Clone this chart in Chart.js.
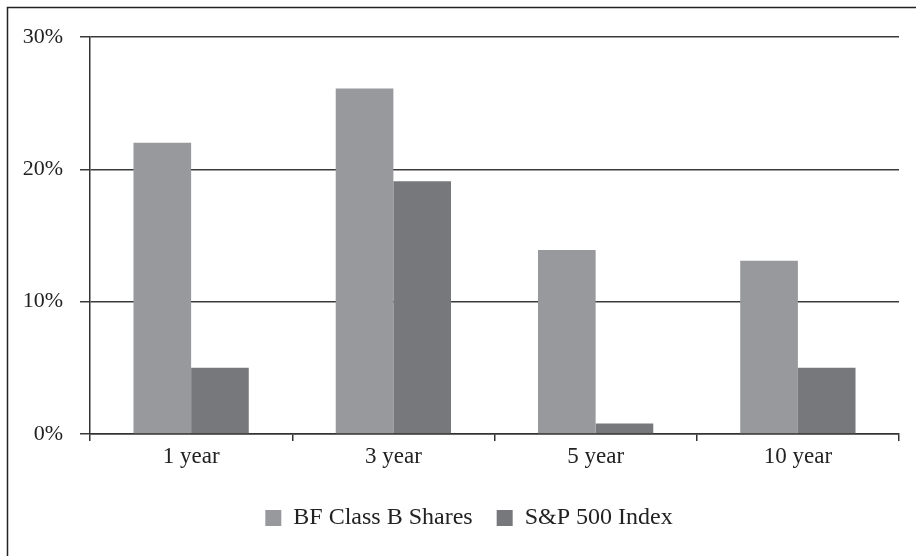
<!DOCTYPE html>
<html>
<head>
<meta charset="utf-8">
<script src="https://cdn.jsdelivr.net/npm/chart.js@4/dist/chart.umd.min.js"></script>
<style>
  html, body { margin: 0; padding: 0; background: #fff; }
  #wrap { width: 916px; height: 556px; }
</style>
</head>
<body>
<div id="wrap"><canvas id="myChart" width="916" height="556"></canvas></div>
<script>
const periods = ['1 year', '3 year', '5 year', '10 year'];
const bfShares = [22, 26.1, 13.9, 13.1];
const spIndex = [5, 19.1, 0.8, 5];
const yTicks = [0, 10, 20, 30];

const serif = '"Liberation Serif", "Times New Roman", serif';

// only the top and left edges of the frame show in the picture
const framePlugin = {
  id: 'frame',
  afterLayout(chart) {
    // the legend sits a little right of the canvas centre
    chart.legend.left += 19.5;
    chart.legend.right += 19.5;
  },
  afterDraw(chart) {
    const ctx = chart.ctx;
    ctx.save();
    ctx.strokeStyle = '#222';
    ctx.lineWidth = 1.5;
    ctx.beginPath();
    ctx.moveTo(7.5, 556);
    ctx.lineTo(7.5, 7.5);
    ctx.lineTo(916, 7.5);
    ctx.stroke();
    ctx.restore();
  }
};

const ctx = document.getElementById('myChart');
new Chart(ctx, {
  type: 'bar',
  data: {
    labels: periods,
    datasets: [
      {
        label: 'BF Class B Shares',
        data: bfShares,
        backgroundColor: '#98999d',
        borderWidth: 0,
        categoryPercentage: 0.57,
        barPercentage: 1.0,
      },
      {
        label: 'S&P 500 Index',
        data: spIndex,
        backgroundColor: '#77787c',
        borderWidth: 0,
        categoryPercentage: 0.57,
        barPercentage: 1.0,
      },
    ],
  },
  options: {
    responsive: false,
    animation: false,
    layout: { padding: { top: 37, right: 17, left: 0, bottom: 16 } },
    plugins: {
      tooltip: { enabled: false },
      legend: {
        position: 'bottom',
        labels: {
          boxWidth: 16,
          boxHeight: 16,
          padding: 24,
          color: '#222',
          font: { family: serif, size: 24 },
        },
      },
    },
    scales: {
      x: {
        offset: true,
        grid: {
          offset: true,
          drawOnChartArea: false,
          drawTicks: true,
          tickLength: 7,
          color: '#333',
          lineWidth: 1.5,
        },
        border: { display: true, color: '#333', width: 1.5 },
        ticks: {
          color: '#222',
          padding: 2,
          font: { family: serif, size: 23 },
        },
        afterFit(scale) { scale.height = 48; },
      },
      y: {
        min: 0,
        max: 30,
        afterBuildTicks(scale) {
          scale.ticks = yTicks.map(v => ({ value: v }));
        },
        grid: {
          color: '#3a3a3a',
          lineWidth: 1.5,
          tickLength: 10,
        },
        border: { display: true, color: '#333', width: 1.5 },
        ticks: {
          color: '#222',
          padding: 17,
          font: { family: serif, size: 22 },
          callback: v => v + '%',
        },
        afterFit(scale) { scale.width = 90; },
      },
    },
  },
  plugins: [framePlugin],
});
</script>
</body>
</html>
